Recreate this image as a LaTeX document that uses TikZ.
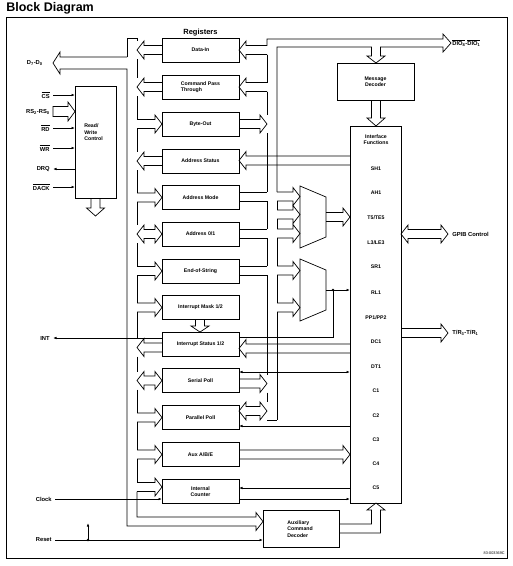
\documentclass[tikz,border=0pt]{standalone}
\usepackage{fontspec}
\setmainfont{Liberation Sans}
\usetikzlibrary{arrows.meta}
\newcommand\olbar[1]{\ensuremath{\overline{\mbox{#1}}}}
% hollow bus arrows: L = pointing left (tip x, open end x, centre y)
\newcommand\busArrL[3]{\draw ({#2},{#3-4.5}) -- ({#1+7},{#3-4.5}) -- ({#1+7},{#3-9}) -- ({#1},{#3}) -- ({#1+7},{#3+9}) -- ({#1+7},{#3+4.5}) -- ({#2},{#3+4.5});}
% R = pointing right (open start x, tip x, centre y)
\newcommand\busArrR[3]{\draw ({#1},{#3-4.5}) -- ({#2-7},{#3-4.5}) -- ({#2-7},{#3-9}) -- ({#2},{#3}) -- ({#2-7},{#3+9}) -- ({#2-7},{#3+4.5}) -- ({#1},{#3+4.5});}
% LR = double headed (left tip, right tip, centre y)
\newcommand\busArrLR[3]{\draw ({#1},{#3}) -- ({#1+7},{#3-9}) -- ({#1+7},{#3-4.5}) -- ({#2-7},{#3-4.5}) -- ({#2-7},{#3-9}) -- ({#2},{#3}) -- ({#2-7},{#3+9}) -- ({#2-7},{#3+4.5}) -- ({#1+7},{#3+4.5}) -- ({#1+7},{#3+9}) -- cycle;}
\begin{document}
\begin{tikzpicture}[x=1pt,y=-1pt,line width=0.7pt,
  reg/.style={draw,minimum width=77pt,minimum height=24pt,inner sep=0pt,
    font=\fontsize{5.2}{6}\selectfont\bfseries,align=center},
  lbl/.style={font=\fontsize{5.8}{7}\selectfont\bfseries,inner sep=0pt},
  iflbl/.style={font=\fontsize{5.2}{6}\selectfont\bfseries,inner sep=0pt},
  sig/.style={-{Latex[length=3.5pt,width=2.6pt]}},
  sigb/.style={{Latex[length=3.5pt,width=2.6pt]}-{Latex[length=3.5pt,width=2.6pt]}},
]
\useasboundingbox (0,0) rectangle (513,566);
\fill[white] (0,0) rectangle (513,566);
% title and frame
\node[anchor=west,inner sep=0pt,font=\fontsize{12.5}{14}\selectfont\bfseries] (title) at (6,8.5) {Block Diagram};
\draw[line width=0.8pt] (6,17) rectangle (507,558);
\node[inner sep=0pt,font=\fontsize{7.5}{9}\selectfont\bfseries] (regs) at (200.5,33) {Registers};

% registers
\node[reg] (di)  at (200.5,50)    {Data-In};
\node[reg,align=left] (cpt) at (200.5,87) {Command Pass\\Through};
\node[reg] (bo)  at (200.5,124.5) {Byte-Out};
\node[reg] (as)  at (200.5,161)   {Address Status};
\node[reg] (am)  at (200.5,197.5) {Address Mode};
\node[reg] (a01) at (200.5,234)   {Address 0/1};
\node[reg] (eos) at (200.5,271)   {End-of-String};
\node[reg] (im)  at (200.5,307.5) {Interrupt Mask 1/2};
\node[reg] (is)  at (200.5,344)   {Interrupt Status 1/2};
\node[reg] (sp)  at (200.5,380.5) {Serial Poll};
\node[reg] (pp)  at (200.5,417.5) {Parallel Poll};
\node[reg] (aux) at (200.5,454.5) {Aux A/B/E};
\node[reg] (ic)  at (200.5,491.5) {Internal\\Counter};

% other blocks
\node[draw,minimum width=41pt,minimum height=112pt,inner sep=0pt] (rw) at (95.5,142) {};
\node[anchor=west,align=left,inner sep=0pt,font=\fontsize{5.2}{6.5}\selectfont\bfseries] (rwt) at (84,132.5) {Read/\\Write\\Control};
\node[reg,minimum height=37pt] (md) at (375.5,81.5) {Message\\Decoder};
\node[draw,minimum width=51pt,minimum height=377pt,inner sep=0pt] (ifb) at (375.5,314.5) {};
\node[iflbl,align=center] (ift) at (376,140) {Interface\\Functions};
\node[draw,minimum width=76pt,minimum height=37pt,inner sep=0pt] (acd) at (301,528.5) {};
\node[anchor=west,align=left,inner sep=0pt,font=\fontsize{5.2}{6.5}\selectfont\bfseries] (acdt) at (287,529) {Auxiliary\\Command\\Decoder};

% interface function labels
\foreach \y/\t in {169/SH1,193/AH1,218/{T5/TE5},243/{L3/LE3},267/SR1,293/RL1,318/{PP1/PP2},342/DC1,367/DT1,391/C1,416/C2,440/C3,464/C4,488/C5}
  \node[iflbl] at (376,\y) {\t};

% ---------------- left bus ----------------
\draw (127,57) -- (127,38) -- (137,38) -- (137,41);
\draw (127,57) -- (60,57) -- (60,52) -- (53,63) -- (60,74) -- (60,69) -- (127,69) -- (127,526) -- (256,526) -- (256,530.5) -- (263,521.5) -- (256,512.5) -- (256,517) -- (137,517) -- (137,491.5);
\foreach \a/\b in {59/78,96/119.5,128.5/152,170/193,202/225,243/266.5,275.5/303,312/338.5,356.5/371.5,389.5/413,422/450,459/482.5}
  \draw (137,\a) -- (137,\b);
\busArrL{137}{162}{50}
\busArrL{137}{162}{87}
\busArrR{137}{162}{124}
\busArrL{137}{162}{161}
\busArrR{137}{162}{197.5}
\busArrLR{137}{162}{234}
\busArrR{137}{162}{271}
\busArrR{137}{162}{307.5}
\busArrL{137}{162}{347.5}
\busArrLR{137}{162}{380.5}
\busArrR{137}{162}{417.5}
\busArrR{137}{162}{454.5}
\busArrR{137}{162}{487}
\node[lbl,anchor=east] (d70) at (43,63) {D\textsubscript{7}-D\textsubscript{0}};

% interrupt mask -> status
\draw (195.5,319.5) -- (195.5,326) -- (191,326) -- (200,332) -- (209,326) -- (204.5,326) -- (204.5,319.5);

% ---------------- right bus ----------------
\draw (267,45.5) -- (267,39) -- (443,39) -- (443,34) -- (451,43) -- (443,52) -- (443,47) -- (380.5,47) -- (380.5,56) -- (385,56) -- (376,63) -- (367,56) -- (371.5,56) -- (371.5,47) -- (277,47) -- (277,192);
\node[lbl,anchor=west] (dio) at (452,43) {\olbar{DIO\textsubscript{8}}-\olbar{DIO\textsubscript{1}}};
\foreach \a/\b in {54.5/82.5,91.5/115,133/192,201/229,238/266,275/374.5,392.5/402}
  \draw (267,\a) -- (267,\b);
\foreach \a/\b in {201/210,219/229,238/266,275/303,312/420}
  \draw (277,\a) -- (277,\b);
\draw (267,420) -- (277,420);
% register to bus (right side)
\busArrL{239}{267}{50}
\busArrL{239}{267}{87}
\busArrR{239}{267}{124}
\draw (239,192) -- (267,192) (239,201) -- (267,201);
\draw (239,229) -- (267,229) (239,238) -- (267,238);
\draw (239,266) -- (267,266) (239,275) -- (267,275);
\busArrR{239}{267}{383.5}
\busArrLR{239}{267}{411}
% comparators
\draw (300,186) -- (326,197) -- (326,237) -- (300,248) -- cycle;
\draw (300,259) -- (326,270) -- (326,310) -- (300,321) -- cycle;
\busArrR{277}{300}{196.5}
\busArrR{277}{300}{214.5}
\busArrR{277}{300}{233.5}
\busArrR{277}{300}{270.5}
\busArrR{277}{300}{307.5}
\busArrR{326}{350}{217}
\draw[sig] (326,290) -- (350,290);
\fill (333,290) circle (1.4);
\draw (333,290) -- (333,337) -- (239,337);
% interface functions to registers
\busArrL{239}{350}{160.5}
\busArrL{239}{350}{348.5}
\draw[sigb] (239,372) -- (350,372);
\draw[sig] (350,426) -- (239,426);
\busArrR{239}{350}{454.5}
\draw[sig] (350,488) -- (239,488);
\draw[sig] (239,499) -- (350,499);
% message decoder -> interface functions
\draw (371.5,100) -- (371.5,118) -- (367,118) -- (376,126) -- (385,118) -- (380.5,118) -- (380.5,100);
% aux command decoder -> interface functions
\draw (339,524) -- (371.5,524) -- (371.5,510) -- (367,510) -- (376,503) -- (385,510) -- (380.5,510) -- (380.5,533) -- (339,533);
% GPIB side
\busArrLR{401}{448}{234}
\node[lbl,anchor=west] (gpib) at (452,234) {GPIB Control};
\busArrR{401}{448}{333}
\node[lbl,anchor=west] (tr) at (452,333) {T/R\textsubscript{3}-T/R\textsubscript{1}};

% ---------------- CPU side signals ----------------
\node[lbl,anchor=east] (cs) at (50,95) {\olbar{CS}};
\draw[sig] (53,95) -- (75,95);
\node[lbl,anchor=east] (rs) at (50,111.5) {RS\textsubscript{2}-RS\textsubscript{0}};
\draw (68,106.5) -- (53,106.5) -- (53,116.5) -- (68,116.5) -- (68,121) -- (75,111.5) -- (68,102) -- cycle;
\node[lbl,anchor=east] (rd) at (50,128) {\olbar{RD}};
\draw[sig] (53,128) -- (75,128);
\node[lbl,anchor=east] (wr) at (50,148) {\olbar{WR}};
\draw[sig] (53,148) -- (75,148);
\node[lbl,anchor=east] (drq) at (50,169) {DRQ};
\draw[sig] (75,169) -- (53,169);
\node[lbl,anchor=east] (dack) at (50,187) {\olbar{DACK}};
\draw[sig] (53,187) -- (75,187);
\draw (91,198) -- (91,208) -- (86.5,208) -- (95.5,216) -- (104.5,208) -- (100,208) -- (100,198);

\node[lbl,anchor=east] (int) at (50,338) {INT};
\draw[sig] (162,338) -- (53,338);
\node[lbl,anchor=east] (clk) at (52,499) {Clock};
\draw[sig] (55,499) -- (162,499);
\node[lbl,anchor=east] (rst) at (52,540) {Reset};
\draw[sig] (55,540) -- (263,540);
\fill (88,540) circle (1.4);
\draw[sig] (88,540) -- (88,523);

\node[anchor=east,inner sep=0pt,font=\fontsize{3.8}{4}\selectfont] (code) at (505,553) {83-003369C};
\end{tikzpicture}
\end{document}
